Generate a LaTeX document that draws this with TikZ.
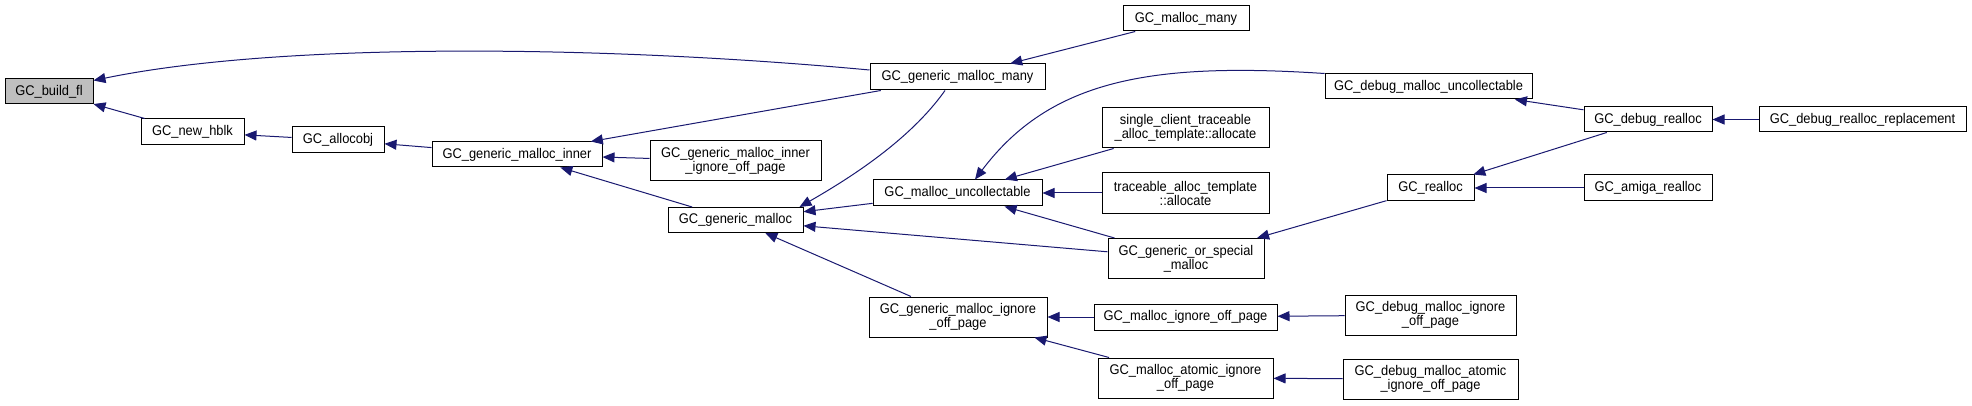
\documentclass[tikz,border=0pt]{standalone}
\usepackage{fontspec}
\newfontfamily\doxfont{Liberation Sans}[FakeStretch=0.92]
\usetikzlibrary{arrows.meta}
\definecolor{edgeblue}{HTML}{191970}
\definecolor{rootgray}{HTML}{BFBFBF}
\begin{document}
\begin{tikzpicture}[x=1pt,y=-1pt,
  fn/.style={draw=black, line width=1pt, fill=white, rectangle, inner sep=0pt,
    align=center, font=\doxfont\fontsize{14}{14}\selectfont},
  root/.style={fn, fill=rootgray},
  call/.style={draw=edgeblue, line width=1pt, -{Triangle[length=12pt,width=10pt]}}
]
\useasboundingbox (0,0) rectangle (1972,406);

% nodes
\node[root, minimum width=88pt,  minimum height=25pt] (build)  at (49,91.5)    {GC\_build\_fl};
\node[fn,   minimum width=103pt, minimum height=26pt] (hblk)   at (192.5,132)  {GC\_new\_hblk};
\node[fn,   minimum width=92pt,  minimum height=26pt] (alloc)  at (338,140)    {GC\_allocobj};
\node[fn,   minimum width=170pt, minimum height=25pt] (inner)  at (517,154.5)  {GC\_generic\_malloc\_inner};
\node[fn,   minimum width=171pt, minimum height=40pt] (inneri) at (735.5,161)  {GC\_generic\_malloc\_inner\\\_ignore\_off\_page};
\node[fn,   minimum width=135pt, minimum height=25pt] (gm)     at (735.5,220)  {GC\_generic\_malloc};
\node[fn,   minimum width=175pt, minimum height=26pt] (many)   at (957.5,77)   {GC\_generic\_malloc\_many};
\node[fn,   minimum width=126pt, minimum height=25pt] (mmany)  at (1186,18.5)  {GC\_malloc\_many};
\node[fn,   minimum width=169pt, minimum height=26pt] (unc)    at (957.5,193)  {GC\_malloc\_uncollectable};
\node[fn,   minimum width=178pt, minimum height=40pt] (gmi)    at (958,317)    {GC\_generic\_malloc\_ignore\\\_off\_page};
\node[fn,   minimum width=167pt, minimum height=40pt] (single) at (1185.5,128) {single\_client\_traceable\\\_alloc\_template::allocate};
\node[fn,   minimum width=167pt, minimum height=40pt] (trace)  at (1185.5,193) {traceable\_alloc\_template\\::allocate};
\node[fn,   minimum width=156pt, minimum height=40pt] (gos)    at (1186,258.5) {GC\_generic\_or\_special\\\_malloc};
\node[fn,   minimum width=183pt, minimum height=26pt] (mio)    at (1185.5,317) {GC\_malloc\_ignore\_off\_page};
\node[fn,   minimum width=175pt, minimum height=40pt] (maio)   at (1185.5,378) {GC\_malloc\_atomic\_ignore\\\_off\_page};
\node[fn,   minimum width=207pt, minimum height=25pt] (dmu)    at (1428.5,86.5) {GC\_debug\_malloc\_uncollectable};
\node[fn,   minimum width=87pt,  minimum height=26pt] (rl)     at (1430.5,188) {GC\_realloc};
\node[fn,   minimum width=171pt, minimum height=40pt] (dmio)   at (1430.5,315) {GC\_debug\_malloc\_ignore\\\_off\_page};
\node[fn,   minimum width=175pt, minimum height=40pt] (dmaio)  at (1430.5,379) {GC\_debug\_malloc\_atomic\\\_ignore\_off\_page};
\node[fn,   minimum width=128pt, minimum height=25pt] (drl)    at (1648,119.5) {GC\_debug\_realloc};
\node[fn,   minimum width=128pt, minimum height=26pt] (arl)    at (1648,188)   {GC\_amiga\_realloc};
\node[fn,   minimum width=207pt, minimum height=25pt] (drr)    at (1862.5,119.5) {GC\_debug\_realloc\_replacement};

% straight edges (caller -> callee)
\draw[call] (hblk) -- (build);
\draw[call] (alloc) -- (hblk);
\draw[call] (inner) -- (alloc);
\draw[call] (many) -- (inner);
\draw[call] (inneri) -- (inner);
\draw[call] (gm) -- (inner);
\draw[call] (mmany) -- (many);
\draw[call] (unc) -- (gm);
\draw[call] (gos) -- (gm);
\draw[call] (gmi) -- (gm);
\draw[call] (single) -- (unc);
\draw[call] (trace) -- (unc);
\draw[call] (gos) -- (unc);
\draw[call] (rl) -- (gos);
\draw[call] (mio) -- (gmi);
\draw[call] (maio) -- (gmi);
\draw[call] (dmio) -- (mio);
\draw[call] (dmaio) -- (maio);
\draw[call] (drl) -- (dmu);
\draw[call] (drl) -- (rl);
\draw[call] (arl) -- (rl);
\draw[call] (drr) -- (drl);

% curved edges
\draw[call] ([yshift=7pt]many.west) .. controls (600,45) and (280,42) .. ([yshift=11pt]build.east);
\draw[call] ([xshift=-12.5pt]many.south) .. controls (910,140) and (850,178) .. ([xshift=-4pt]gm.north east);
\draw[call] (dmu.north west) .. controls (1150,62) and (1050,80) .. ([xshift=17.5pt]unc.north);
\end{tikzpicture}
\end{document}
